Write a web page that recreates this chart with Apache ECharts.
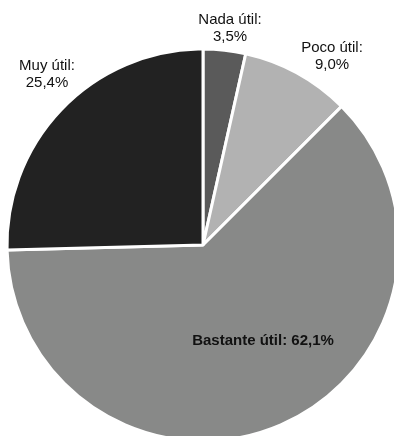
<!DOCTYPE html>
<html>
<head>
<meta charset="utf-8">
<style>
  html, body { margin: 0; padding: 0; background: #ffffff; }
  #chart { width: 394px; height: 436px; }
</style>
<script src="https://cdn.jsdelivr.net/npm/echarts@6/dist/echarts.min.js"></script>
</head>
<body>
<div id="chart"></div>
<script>
// Answer categories, clockwise from 12 o'clock
const categories = ['Nada útil', 'Poco útil', 'Bastante útil', 'Muy útil'];
const values = [3.5, 9.0, 62.1, 25.4];
const colors = ['#5a5a5a', '#b2b2b2', '#888988', '#222222'];
// Where each label block sits (centre of the text block)
const labelSpots = [[230, 28], [332, 56], [263, 341], [47, 74]];

const fmt = v => v.toFixed(1).replace('.', ',') + '%';

const chart = echarts.init(document.getElementById('chart'), null, { renderer: 'canvas' });

const data = categories.map((name, i) => ({
  name,
  value: values[i],
  itemStyle: { color: colors[i] },
  label: i === 2
    ? { formatter: name + ': ' + fmt(values[i]), fontWeight: 'bold' }
    : { formatter: name + ':\n' + fmt(values[i]) }
}));

chart.setOption({
  animation: false,
  series: [{
    type: 'pie',
    center: [203, 245],
    radius: 196,
    startAngle: 90,
    clockwise: true,
    avoidLabelOverlap: false,
    silent: true,
    itemStyle: { borderColor: '#ffffff', borderWidth: 3 },
    label: {
      show: true,
      position: 'outside',
      color: '#111111',
      fontFamily: 'Liberation Sans, Arial, Helvetica, sans-serif',
      fontSize: 15,
      lineHeight: 17,
      align: 'center'
    },
    labelLine: { show: false },
    labelLayout: params => ({
      x: labelSpots[params.dataIndex][0],
      y: labelSpots[params.dataIndex][1],
      align: 'center',
      verticalAlign: 'middle'
    }),
    data
  }]
});
</script>
</body>
</html>
